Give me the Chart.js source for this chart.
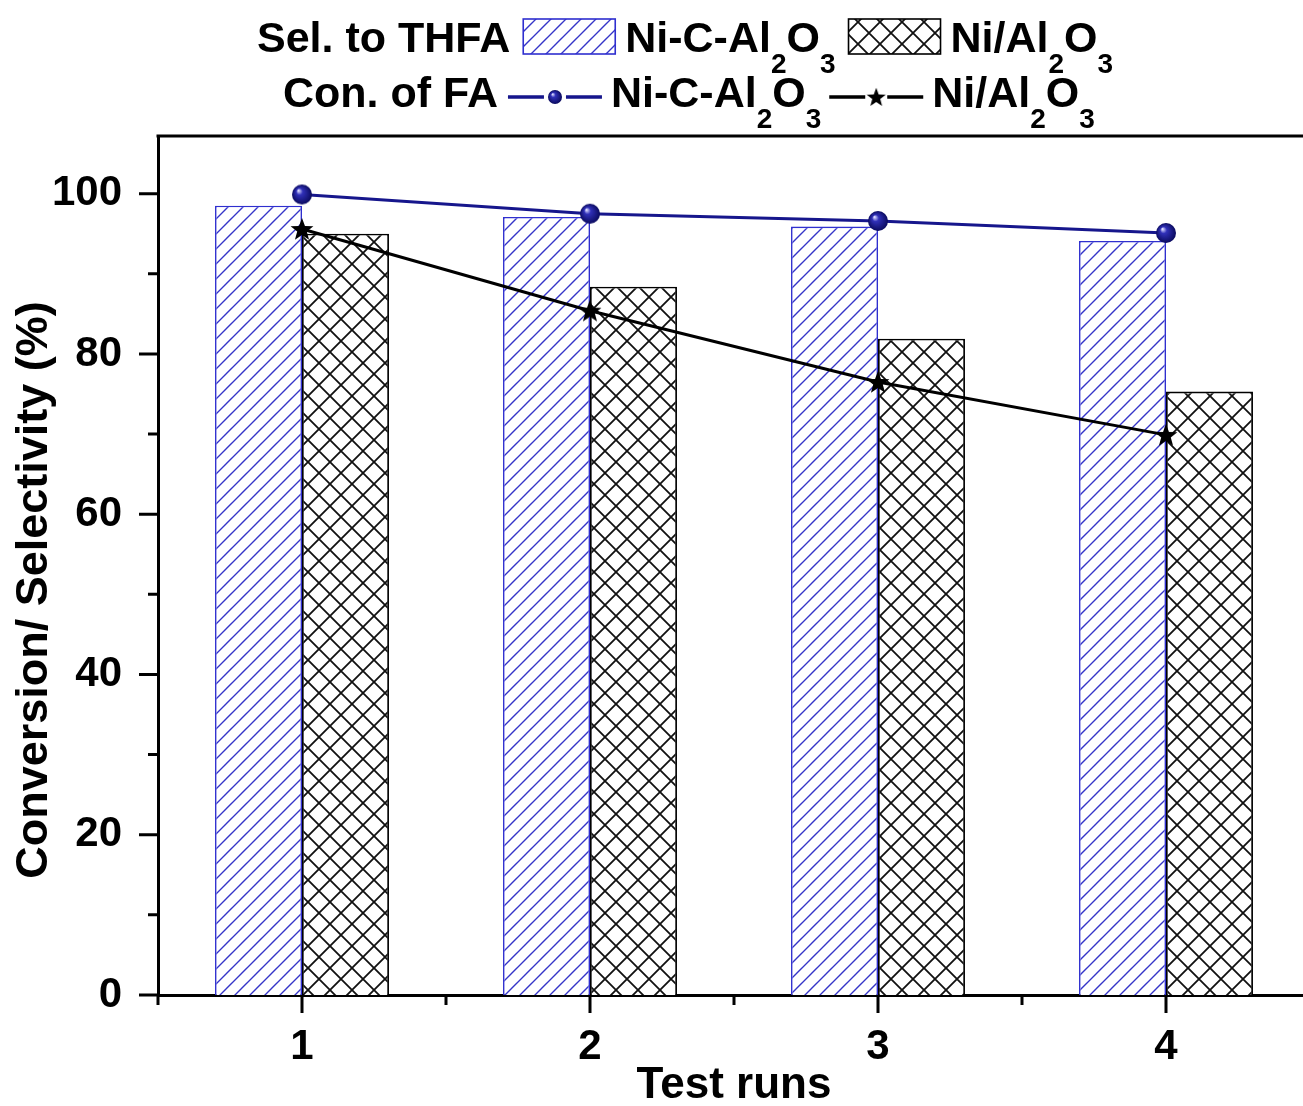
<!DOCTYPE html>
<html><head><meta charset="utf-8">
<script src="https://cdn.jsdelivr.net/npm/chart.js@4.4.0/dist/chart.umd.min.js"></script>
<style>html,body{margin:0;padding:0;background:#fff;overflow:hidden;}#wrap{width:1310px;height:1106px;}</style>
</head><body><div id="wrap"><canvas id="c" width="1310" height="1106"></canvas></div>
<script>
// ---- data ----
const categories = ['1', '2', '3', '4'];
const selNiC = [98.5, 97.1, 95.9, 94.1];   // Sel. to THFA, Ni-C-Al2O3 (bars)
const selNi  = [95.0, 88.4, 81.9, 75.3];   // Sel. to THFA, Ni/Al2O3 (bars)
const conNiC = [99.9, 97.5, 96.6, 95.1];   // Con. of FA, Ni-C-Al2O3 (line)
const conNi  = [95.6, 85.4, 76.5, 69.9];   // Con. of FA, Ni/Al2O3 (line)
const yMajorTicks = [0, 20, 40, 60, 80, 100];
const yMinorTicks = [10, 30, 50, 70, 90];
const yTitle = 'Conversion/ Selectivity (%)';
const xTitle = 'Test runs';
const legendSelTitle = 'Sel. to THFA';
const legendConTitle = 'Con. of FA';
const labelNiC = 'Ni-C-Al_2O_3';
const labelNi = 'Ni/Al_2O_3';

const FONT = '"Liberation Sans", Arial, Helvetica, sans-serif';
const BLUE_LINE = '#16168c';
const BLUE_HATCH = '#3535c8';

function hatchPattern(color, s, lw, cross) {
  const c = document.createElement('canvas'); c.width = s; c.height = s;
  const g = c.getContext('2d');
  g.fillStyle = '#fff'; g.fillRect(0, 0, s, s);
  g.strokeStyle = color; g.lineWidth = lw; g.lineCap = 'square';
  g.beginPath();
  g.moveTo(0, s); g.lineTo(s, 0);
  g.moveTo(-2, 2); g.lineTo(2, -2);
  g.moveTo(s - 2, s + 2); g.lineTo(s + 2, s - 2);
  if (cross) {
    g.moveTo(0, 0); g.lineTo(s, s);
    g.moveTo(s - 2, -2); g.lineTo(s + 2, 2);
    g.moveTo(-2, s - 2); g.lineTo(2, s + 2);
  }
  g.stroke();
  return document.getElementById('c').getContext('2d').createPattern(c, 'repeat');
}
function sphere(r) {
  const d = 2 * r + 2, c = document.createElement('canvas'); c.width = d; c.height = d;
  const g = c.getContext('2d'), cx = d / 2;
  const grd = g.createRadialGradient(cx - r * 0.35, cx - r * 0.4, r * 0.05, cx, cx, r);
  grd.addColorStop(0, '#d8d8ff'); grd.addColorStop(0.3, '#3030b8'); grd.addColorStop(1, '#0a0a5e');
  g.fillStyle = grd; g.beginPath(); g.arc(cx, cx, r, 0, Math.PI * 2); g.fill();
  return c;
}
function star(R) {
  const d = 2 * R + 2, c = document.createElement('canvas'); c.width = d; c.height = d;
  const g = c.getContext('2d'), cx = d / 2, cy = d / 2 + R * 0.08;
  g.fillStyle = '#000'; g.beginPath();
  for (let i = 0; i < 10; i++) {
    const rr = i % 2 ? R * 0.42 : R, a = -Math.PI / 2 + i * Math.PI / 5;
    const px = cx + rr * Math.cos(a), py = cy + rr * Math.sin(a);
    i ? g.lineTo(px, py) : g.moveTo(px, py);
  }
  g.closePath(); g.fill();
  return c;
}

const blueHatch = hatchPattern(BLUE_HATCH, 15, 1.4, false);
const crossHatch = hatchPattern('#111', 22, 1.8, true);
const sphereBig = sphere(10), sphereSmall = sphere(7);
const starBig = star(12), starSmall = star(10);

function richText(ctx, x, base, str) {
  const parts = str.split(/(_\d)/);
  for (const p of parts) {
    if (!p) continue;
    if (p[0] === '_') {
      ctx.font = 'bold 28px ' + FONT;
      ctx.fillText(p.slice(1), x, base + 21);
      x += ctx.measureText(p.slice(1)).width;
    } else {
      ctx.font = 'bold 43px ' + FONT;
      ctx.fillText(p, x, base);
      x += ctx.measureText(p).width;
    }
  }
  return x;
}

const decor = {
  id: 'decor',
  afterDraw(chart) {
    const ctx = chart.ctx, a = chart.chartArea, xs = chart.scales.x, ys = chart.scales.y;
    ctx.save();
    ctx.strokeStyle = '#000'; ctx.lineWidth = 3; ctx.lineCap = 'butt';
    ctx.beginPath(); ctx.moveTo(a.left - 1.5, a.top); ctx.lineTo(a.right, a.top); ctx.stroke();
    ctx.beginPath();
    yMajorTicks.forEach(v => { const p = ys.getPixelForValue(v); ctx.moveTo(a.left - 19, p); ctx.lineTo(a.left, p); });
    yMinorTicks.forEach(v => { const p = ys.getPixelForValue(v); ctx.moveTo(a.left - 10, p); ctx.lineTo(a.left, p); });
    const half = (xs.getPixelForValue(1) - xs.getPixelForValue(0)) / 2;
    categories.forEach((c, i) => {
      const p = xs.getPixelForValue(i);
      ctx.moveTo(p, a.bottom); ctx.lineTo(p, a.bottom + 18);
      ctx.moveTo(p - half, a.bottom); ctx.lineTo(p - half, a.bottom + 10);
      ctx.moveTo(p + half, a.bottom); ctx.lineTo(p + half, a.bottom + 10);
    });
    ctx.stroke();

    ctx.save();
    ctx.translate(35, 590); ctx.rotate(-Math.PI / 2);
    ctx.fillStyle = '#000'; ctx.font = 'bold 45px ' + FONT;
    ctx.textAlign = 'center'; ctx.textBaseline = 'middle';
    ctx.fillText(yTitle, 0, 0);
    ctx.restore();

    ctx.fillStyle = '#000'; ctx.textBaseline = 'alphabetic'; ctx.textAlign = 'left';
    let x = 257, b1 = 52;
    ctx.font = 'bold 43px ' + FONT; ctx.fillText(legendSelTitle, x, b1);
    x += ctx.measureText(legendSelTitle).width + 13;
    const box = (bx, fill, stroke, lw) => {
      ctx.fillStyle = fill; ctx.fillRect(bx, 19, 92, 35);
      ctx.strokeStyle = stroke; ctx.lineWidth = lw; ctx.strokeRect(bx, 19, 92, 35);
      ctx.fillStyle = '#000';
    };
    box(x, blueHatch, '#2f2fcf', 1.6); x += 92 + 10;
    x = richText(ctx, x, b1, labelNiC) + 13;
    box(x, crossHatch, '#000', 1.6); x += 92 + 10;
    richText(ctx, x, b1, labelNi);
    let b2 = 107; x = 283;
    ctx.font = 'bold 43px ' + FONT; ctx.fillText(legendConTitle, x, b2);
    x += ctx.measureText(legendConTitle).width + 10;
    const sym = (sx, color, img) => {
      const cy = 97, cx = sx + 47;
      ctx.strokeStyle = color; ctx.lineWidth = 3.5;
      ctx.beginPath(); ctx.moveTo(sx, cy); ctx.lineTo(cx - 11, cy); ctx.moveTo(cx + 11, cy); ctx.lineTo(sx + 94, cy); ctx.stroke();
      ctx.drawImage(img, cx - img.width / 2, cy - img.height / 2);
    };
    sym(x, BLUE_LINE, sphereSmall); x += 94 + 9;
    ctx.fillStyle = '#000';
    x = richText(ctx, x, b2, labelNiC) + 8;
    sym(x, '#000', starSmall); x += 94 + 9;
    ctx.fillStyle = '#000';
    richText(ctx, x, b2, labelNi);
    ctx.restore();
  }
};

const tickFont = { family: FONT, size: 42, weight: 'bold' };

new Chart(document.getElementById('c'), {
  type: 'bar',
  data: {
    labels: categories,
    datasets: [
      { type: 'line', label: 'Con. of FA Ni-C-Al2O3', data: conNiC, borderColor: BLUE_LINE, borderWidth: 3,
        pointStyle: sphereBig, pointRadius: 10, fill: false, tension: 0, order: 0 },
      { type: 'line', label: 'Con. of FA Ni/Al2O3', data: conNi, borderColor: '#000', borderWidth: 3,
        pointStyle: starBig, pointRadius: 12, fill: false, tension: 0, order: 0 },
      { label: 'Sel. to THFA Ni-C-Al2O3', data: selNiC, backgroundColor: blueHatch, borderColor: '#2f2fcf',
        borderWidth: 1.6, categoryPercentage: 0.604, barPercentage: 1, order: 1 },
      { label: 'Sel. to THFA Ni/Al2O3', data: selNi, backgroundColor: crossHatch, borderColor: '#000',
        borderWidth: 1.8, categoryPercentage: 0.604, barPercentage: 1, order: 1 }
    ]
  },
  options: {
    responsive: false, animation: false, devicePixelRatio: 1,
    layout: { autoPadding: false, padding: { top: 136, left: 0, right: 0, bottom: 0 } },
    plugins: { legend: { display: false }, tooltip: { enabled: false } },
    scales: {
      x: {
        type: 'category', offset: true,
        grid: { display: false, drawTicks: false },
        border: { display: true, color: '#000', width: 3 },
        ticks: { font: tickFont, color: '#000', padding: 27, maxRotation: 0 },
        title: { display: true, text: xTitle, color: '#000', font: { family: FONT, size: 44, weight: 'bold', lineHeight: 0.9 }, padding: { top: 0, bottom: 0 } },
        afterFit(s) { s.height = 111; }
      },
      y: {
        min: 0, max: 107.2,
        grid: { display: false, drawTicks: false },
        border: { display: true, color: '#000', width: 3 },
        ticks: { stepSize: 10, font: tickFont, color: '#000', padding: 36,
          callback: v => (yMajorTicks.includes(v) ? String(v) : '') },
        title: { display: false },
        afterFit(s) { s.width = 158; }
      }
    }
  },
  plugins: [decor]
});
</script></body></html>
